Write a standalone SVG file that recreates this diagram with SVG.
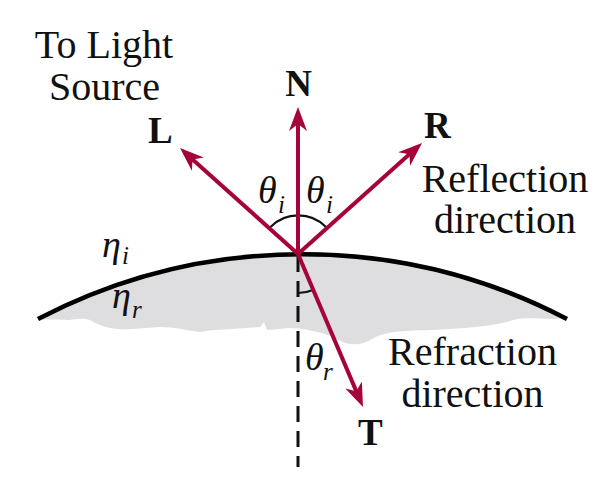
<svg xmlns="http://www.w3.org/2000/svg" width="614" height="488" viewBox="0 0 614 488">
<style>
.ray{stroke:#a6033a;stroke-width:4;fill:none;marker-end:url(#ah)}
.lbl{font-family:"Liberation Serif","Times New Roman","DejaVu Serif",serif;fill:#111}
.big{font-size:40px;text-anchor:middle}
.bold{font-size:37px;font-weight:bold}
.gr{font-size:38px;font-style:italic}
.sub{font-size:25px;font-style:italic}
.arc{stroke:#111;stroke-width:2.2;fill:none}
</style>
<defs>
<marker id="ah" markerUnits="userSpaceOnUse" viewBox="-12 -10 28 20" refX="0" refY="0" markerWidth="28" markerHeight="20" orient="auto">
<path d="M14,0 L-10,-9 L-3,0 L-10,9 Z" fill="#a6033a"/>
</marker>
</defs>
<g id="medium">
<path d="M38,319 A572,572 0 0 1 567,319 L563,318 C545,321 532,316 513,320 C495,326 470,328 430,330 C400,331 385,331 370,340 C360,346 348,346 335,338 C320,331 300,328 290,328 L267,330 L264,322 L260,327 C245,328 235,329 213,330 L200,332 C185,330 175,327 160,327 C145,328 125,330 117,329 C108,328 100,326 90,320 C82,317 70,320 67,320 C55,319 45,320 38,319 Z" fill="#dedddf"/>
<path d="M38,319 A572,572 0 0 1 567,319" fill="none" stroke="#000" stroke-width="4.5"/>
</g>
<g id="normal-axis">
<line x1="298" y1="256" x2="298" y2="467" stroke="#111" stroke-width="3" stroke-dasharray="16 9"/>
</g>
<g id="angle-arcs">
<path class="arc" d="M270.5,227 A39,39 0 0 1 326,227"/>
<path class="arc" d="M298,293 A39,39 0 0 0 313,290"/>
</g>
<g id="connectors">
<line class="ray" x1="298" y1="254" x2="298" y2="121"/>
<line class="ray" x1="298" y1="254" x2="190.4" y2="157.4"/>
<line class="ray" x1="298" y1="254" x2="411.6" y2="152.3"/>
<line class="ray" x1="298" y1="254" x2="357.5" y2="394.1"/>
</g>
<g id="label-light">
<text class="lbl big" x="104" y="58">To Light</text>
<text class="lbl big" x="104.5" y="100">Source</text>
</g>
<g id="label-reflection">
<text class="lbl big" x="505" y="192">Reflection</text>
<text class="lbl big" x="505" y="233">direction</text>
</g>
<g id="label-refraction">
<text class="lbl big" x="472.5" y="365">Refraction</text>
<text class="lbl big" x="472.5" y="407">direction</text>
</g>
<g id="node-N"><text class="lbl bold" x="298.5" y="96" text-anchor="middle">N</text></g>
<g id="node-L"><text class="lbl bold" x="148" y="143">L</text></g>
<g id="node-R"><text class="lbl bold" x="424" y="138">R</text></g>
<g id="node-T"><text class="lbl bold" x="358" y="445">T</text></g>
<g id="angle-labels">
<text class="lbl gr" x="258" y="203">θ</text><text class="lbl sub" x="278" y="213">i</text>
<text class="lbl gr" x="306" y="203">θ</text><text class="lbl sub" x="326" y="213">i</text>
<text class="lbl gr" x="305" y="370">θ</text><text class="lbl sub" x="323" y="380">r</text>
<text class="lbl gr" x="102" y="257">η</text><text class="lbl sub" x="122" y="264">i</text>
<text class="lbl gr" x="112" y="308">η</text><text class="lbl sub" x="132" y="318">r</text>
</g>
</svg>
